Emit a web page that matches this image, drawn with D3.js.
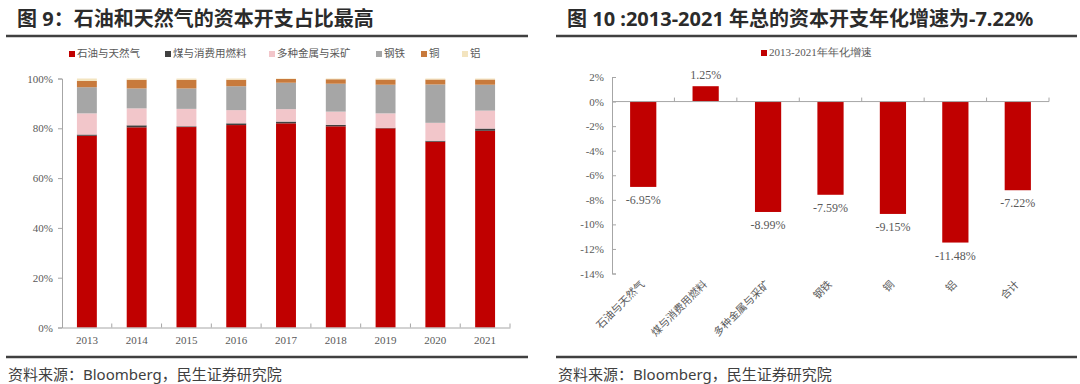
<!DOCTYPE html>
<html>
<head>
<meta charset="utf-8">
<script src="https://cdn.jsdelivr.net/npm/d3@7"></script>
<style>
body{margin:0;background:#fff;}
svg{display:block;}
</style>
</head>
<body>
<svg id="chart" width="1080" height="384"></svg>
<script>

let years = ['2013','2014','2015','2016','2017','2018','2019','2020','2021']
let sectors = ['石油与天然气','煤与消费用燃料','多种金属与采矿','钢铁','铜','铝']
let sectorColors = ['#C00000','#404040','#F2C6CA','#A6A6A6','#C87A3C','#F3E4BF']

let oilGas   = [77.0, 80.4, 80.5, 81.3, 82.0, 80.8, 80.0, 74.6, 79.0]
let coal     = [0.5, 0.8, 0.3, 0.7, 0.7, 0.6, 0.2, 0.4, 0.9]
let metals   = [8.5, 6.8, 7.0, 5.3, 5.0, 5.3, 5.8, 7.2, 7.2]
let steel    = [10.5, 8.0, 8.2, 9.6, 10.6, 11.2, 11.5, 15.4, 10.4]
let copper   = [2.5, 3.5, 3.5, 2.6, 1.5, 1.8, 2.1, 2.0, 2.1]
let aluminum = [1.0, 0.5, 0.5, 0.5, 0.2, 0.3, 0.4, 0.4, 0.4]
let shareTicks = [0, 20, 40, 60, 80, 100]

let growthCats = ['石油与天然气','煤与消费用燃料','多种金属与采矿','钢铁','铜','铝','合计']
let growth = [-6.95, 1.25, -8.99, -7.59, -9.15, -11.48, -7.22]
let growthTicks = [2, 0, -2, -4, -6, -8, -10, -12, -14]

const svg = d3.select('#chart')
const serif = '"Liberation Serif", "Times New Roman", serif'
const cjk = '"Noto Sans", "Noto Sans CJK SC", sans-serif'
const axisColor = '#A6A6A6'
const textColor = '#595959'

// header / footer frames
function frame(x0, x1, title, titleX){
	svg.append('text')
		.attr('x', titleX)
		.attr('y', 26)
		.attr('font-family', cjk)
		.attr('font-weight', 700)
		.attr('font-size', 20)
		.attr('fill', '#2b2b2b')
		.text(title)
	svg.append('line')
		.attr('x1', x0).attr('x2', x1)
		.attr('y1', 36).attr('y2', 36)
		.attr('stroke', '#404040')
		.attr('stroke-width', 2.5)
	svg.append('line')
		.attr('x1', x0).attr('x2', x1)
		.attr('y1', 357).attr('y2', 357)
		.attr('stroke', '#404040')
		.attr('stroke-width', 2.5)
	svg.append('text')
		.attr('x', x0 + 2)
		.attr('y', 380)
		.attr('font-family', cjk)
		.attr('font-size', 15)
		.attr('fill', '#404040')
		.text('资料来源：Bloomberg，民生证券研究院')
}

frame(6, 528, '图 9：石油和天然气的资本开支占比最高', 17)
frame(556, 1077, '图 10 :2013-2021 年总的资本开支年化增速为-7.22%', 567)

// ---------- left: stacked share chart ----------
let series = [oilGas, coal, metals, steel, copper, aluminum]
let rows = years.map(function(y, i){
	let row = {year: y}
	sectors.forEach(function(s, j){ row[s] = series[j][i] })
	return row
})
let stacked = d3.stack().keys(sectors)(rows)

let x1 = d3.scaleBand()
	.domain(years)
	.range([62, 510])
	.paddingInner(0.6)
	.paddingOuter(0.3)

let y1 = d3.scaleLinear()
	.domain([0, 100])
	.range([327.5, 78.5])

let left = svg.append('g')

left.selectAll('.layer')
	.data(stacked)
	.enter()
	.append('g')
	.attr('fill', (d, i) => sectorColors[i])
	.selectAll('rect')
	.data(d => d)
	.enter()
	.append('rect')
	.attr('x', d => x1(d.data.year))
	.attr('y', d => y1(d[1]))
	.attr('height', d => y1(d[0]) - y1(d[1]))
	.attr('width', x1.bandwidth())

left.append('g')
	.attr('transform', 'translate(62,0)')
	.call(d3.axisLeft(y1).tickValues(shareTicks).tickSize(4).tickFormat(d => d + '%'))
	.call(g => g.selectAll('path,line').attr('stroke', axisColor))
	.call(g => g.selectAll('text').attr('font-family', serif).attr('font-size', 11).attr('fill', textColor).attr('x', -9))

left.append('g')
	.attr('transform', 'translate(0,327.5)')
	.call(d3.axisBottom(x1).tickSize(0).tickSizeOuter(0))
	.call(g => g.select('.domain').attr('stroke', axisColor))
	.call(g => g.selectAll('text').attr('font-family', serif).attr('font-size', 11).attr('fill', textColor).attr('dy', '1.25em'))

let step1 = x1.step()
left.selectAll('.sep')
	.data(years)
	.enter()
	.append('line')
	.attr('x1', d => x1(d) + x1.bandwidth() / 2 + step1 / 2)
	.attr('x2', d => x1(d) + x1.bandwidth() / 2 + step1 / 2)
	.attr('y1', 327.5)
	.attr('y2', 323.5)
	.attr('stroke', axisColor)

// legend
let legendX = [69, 165, 269, 376, 421, 462]
let legend = left.selectAll('.leg')
	.data(sectors)
	.enter()
	.append('g')
	.attr('transform', (d, i) => 'translate(' + legendX[i] + ',57)')
legend.append('rect')
	.attr('x', 0).attr('y', -6)
	.attr('width', 6).attr('height', 6)
	.attr('fill', (d, i) => sectorColors[i])
legend.append('text')
	.attr('x', 8)
	.attr('y', 0)
	.attr('font-family', cjk)
	.attr('font-size', 10.5)
	.attr('fill', textColor)
	.text(d => d)

// ---------- right: growth bars ----------
let x2 = d3.scaleBand()
	.domain(growthCats)
	.range([612, 1049])
	.paddingInner(0.58)
	.paddingOuter(0.29)

let y2 = d3.scaleLinear()
	.domain([-14, 2])
	.range([273.5, 77])

let right = svg.append('g')

right.selectAll('.bar')
	.data(growth)
	.enter()
	.append('rect')
	.attr('fill', '#C00000')
	.attr('x', (d, i) => x2(growthCats[i]))
	.attr('y', d => y2(Math.max(0, d)))
	.attr('height', d => Math.abs(y2(d) - y2(0)))
	.attr('width', x2.bandwidth())

right.selectAll('.val')
	.data(growth)
	.enter()
	.append('text')
	.attr('x', (d, i) => x2(growthCats[i]) + x2.bandwidth() / 2)
	.attr('y', d => d < 0 ? y2(d) + 17 : y2(d) - 7)
	.attr('text-anchor', 'middle')
	.attr('font-family', serif)
	.attr('font-size', 12)
	.attr('fill', textColor)
	.text(d => d.toFixed(2) + '%')

right.append('g')
	.attr('transform', 'translate(612,0)')
	.call(d3.axisRight(y2).tickValues(growthTicks).tickSize(4).tickFormat(d => d + '%'))
	.call(g => g.selectAll('path,line').attr('stroke', axisColor))
	.call(g => g.selectAll('text').attr('font-family', serif).attr('font-size', 11).attr('fill', textColor)
		.attr('text-anchor', 'end').attr('x', -8))

right.append('line')
	.attr('x1', 612).attr('x2', 1049)
	.attr('y1', y2(0)).attr('y2', y2(0))
	.attr('stroke', axisColor)

let step2 = x2.step()
right.selectAll('.sep')
	.data(growthCats)
	.enter()
	.append('line')
	.attr('x1', d => x2(d) + x2.bandwidth() / 2 + step2 / 2)
	.attr('x2', d => x2(d) + x2.bandwidth() / 2 + step2 / 2)
	.attr('y1', y2(0))
	.attr('y2', y2(0) - 4)
	.attr('stroke', axisColor)

right.selectAll('.cat')
	.data(growthCats)
	.enter()
	.append('text')
	.attr('transform', d => 'translate(' + (x2(d) + x2.bandwidth() / 2 + 2) + ',285) rotate(-45)')
	.attr('text-anchor', 'end')
	.attr('font-family', cjk)
	.attr('font-size', 10.5)
	.attr('fill', textColor)
	.text(d => d)

let rl = right.append('g').attr('transform', 'translate(761,56)')
rl.append('rect')
	.attr('x', 0).attr('y', -6)
	.attr('width', 6).attr('height', 6)
	.attr('fill', '#C00000')
rl.append('text')
	.attr('x', 8)
	.attr('y', 0)
	.attr('font-family', serif)
	.attr('font-size', 11)
	.attr('fill', textColor)
	.text('2013-2021年年化增速')

</script>
</body>
</html>
